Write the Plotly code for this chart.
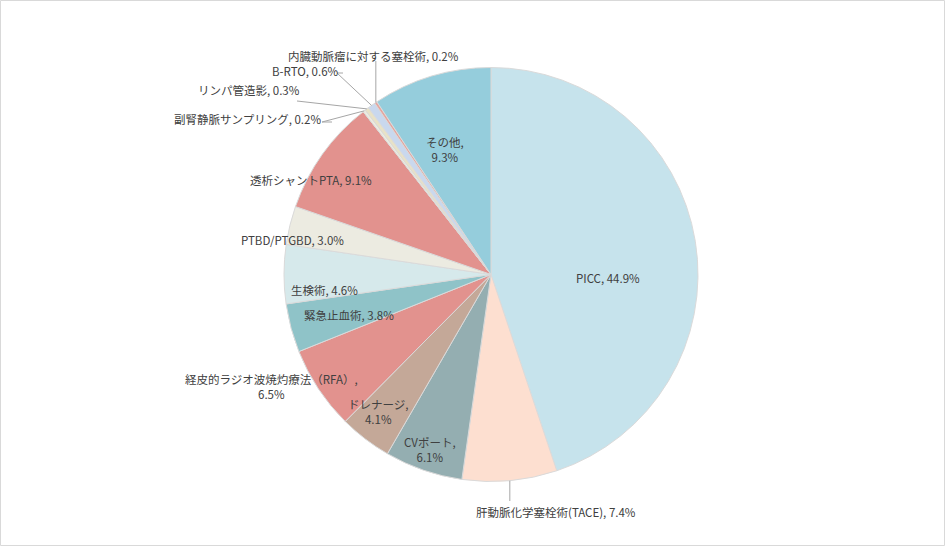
import math
import plotly.graph_objects as go

# ---- data ----
categories = [
    "PICC", "肝動脈化学塞栓術(TACE)", "CVポート", "ドレナージ",
    "経皮的ラジオ波焼灼療法（RFA）", "緊急止血術", "生検術", "PTBD/PTGBD",
    "透析シャントPTA", "副腎静脈サンプリング", "リンパ管造影", "B-RTO",
    "内臓動脈瘤に対する塞栓術", "その他",
]
values = [44.9, 7.4, 6.1, 4.1, 6.5, 3.8, 4.6, 3.0, 9.1, 0.2, 0.3, 0.6, 0.2, 9.3]
label_texts = [
    "PICC, 44.9%", "肝動脈化学塞栓術(TACE), 7.4%", "CVポート,<br>6.1%", "ドレナージ,<br>4.1%",
    "経皮的ラジオ波焼灼療法（RFA）,<br>6.5%", "緊急止血術, 3.8%", "生検術, 4.6%", "PTBD/PTGBD, 3.0%",
    "透析シャントPTA, 9.1%", "副腎静脈サンプリング, 0.2%", "リンパ管造影, 0.3%", "B-RTO, 0.6%",
    "内臓動脈瘤に対する塞栓術, 0.2%", "その他,<br>9.3%",
]
colors = [
    "#C6E3EC", "#FDDFD0", "#94AEB1", "#C4A898",
    "#E2928E", "#8FC3C8", "#D6E9EB", "#ECEBE1",
    "#E2928E", "#EDECDF", "#E8E2C6", "#C9D8EE",
    "#E6A49E", "#95CDDC",
]

# ---- layout (pixels) ----
W, H = 946, 547
CX, CY, R = 491, 274.5, 207
# label centre positions (px)
label_pos = [
    (608, 278), (556, 512), (430, 449), (378, 411),
    (271, 386), (349, 315), (324, 290), (292, 240),
    (311, 180), (247, 119), (249, 90), (305, 71),
    (373, 56), (445, 149),
]
# leader line elbow points (label side), None = same x as slice point
leaders = {
    1: [(None, 501)],
    9: [(322, 122), (332, 122)],
    10: [(297, 101)],
    11: [(337, 73), (343, 73)],
    12: [(None, 61)],
}

def px(x):
    return x / W

def py(y):
    return 1 - y / H

total = sum(values)
fig = go.Figure(go.Pie(
    labels=categories, values=values, sort=False, direction="clockwise", rotation=0,
    marker=dict(colors=colors, line=dict(color="#DADADA", width=1)),
    textinfo="none", hoverinfo="label+percent", showlegend=False,
    domain=dict(x=[px(CX - R), px(CX + R)], y=[py(CY + R), py(CY - R)]),
))

annotations = []
for i, (t, (lx, ly)) in enumerate(zip(label_texts, label_pos)):
    annotations.append(dict(
        x=px(lx), y=py(ly), xref="paper", yref="paper", text=t, showarrow=False,
        xanchor="center", yanchor="middle", align="center",
        font=dict(family="Noto Sans CJK JP, Meiryo, sans-serif", size=11.5, color="#404040"),
    ))

shapes = []
cum = 0
for i, v in enumerate(values):
    mid = (cum + v / 2) / total * 2 * math.pi
    cum += v
    if i not in leaders:
        continue
    sx = CX + R * math.sin(mid)
    sy = CY - R * math.cos(mid)
    pts = [(sx, sy)]
    for (ex, ey) in leaders[i]:
        pts.append((sx if ex is None else ex, ey))
    for (x0, y0), (x1, y1) in zip(pts[:-1], pts[1:]):
        shapes.append(dict(type="line", xref="paper", yref="paper",
                           x0=px(x0), y0=py(y0), x1=px(x1), y1=py(y1),
                           line=dict(color="#A6A6A6", width=1)))

shapes.append(dict(type="rect", xref="paper", yref="paper",
                   x0=px(0.5), y0=py(545.5), x1=px(944.5), y1=py(0.5),
                   line=dict(color="#D9D9D9", width=1)))

fig.update_layout(
    width=W, height=H, margin=dict(l=0, r=0, t=0, b=0),
    paper_bgcolor="white", plot_bgcolor="white",
    annotations=annotations, shapes=shapes,
)
fig.write_html("out.html", config={"displayModeBar": False})

# remove default page margin so the figure sits at the window origin
with open("out.html", "r", encoding="utf-8") as f:
    html = f.read()
html = html.replace("<body>", '<body style="margin:0;padding:0;overflow:hidden">', 1)
with open("out.html", "w", encoding="utf-8") as f:
    f.write(html)
